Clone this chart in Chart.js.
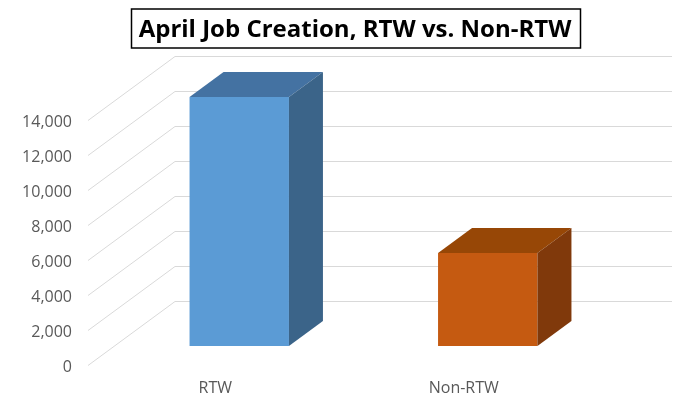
<!DOCTYPE html>
<html>
<head>
<meta charset="utf-8">
<script src="https://cdn.jsdelivr.net/npm/chart.js@4"></script>
<style>
  html, body { margin: 0; padding: 0; background: #fff; }
  #wrap { width: 685px; height: 407px; }
</style>
</head>
<body>
<div id="wrap"><canvas id="chart" width="685" height="407"></canvas></div>
<script>
var categories = ['RTW', 'Non-RTW'];
var jobs = [14230, 5310];
var yTicks = [0, 2000, 4000, 6000, 8000, 10000, 12000, 14000];
var titleText = 'April Job Creation, RTW vs. Non-RTW';

var frontColors = ['#5B9BD5', '#C55A11'];
var topColors = ['#4472A2', '#974706'];
var sideColors = ['#3B6489', '#80390B'];

// depth of the bars and of the walls, in pixels
var BAR_DX = 34, BAR_DY = -25;
var FRONT_DX = -27, FRONT_DY = 19;
var BACK_DX = 60, BACK_DY = -45;

var walls = {
  id: 'walls',
  beforeDatasetsDraw: function(chart) {
    var ctx = chart.ctx, y = chart.scales.y, a = chart.chartArea;
    ctx.save();
    ctx.strokeStyle = '#D9D9D9';
    ctx.lineWidth = 1;
    yTicks.forEach(function(v) {
      var py = Math.round(y.getPixelForValue(v)) + 0.5;
      ctx.beginPath();
      ctx.moveTo(a.left + FRONT_DX, py + FRONT_DY);
      ctx.lineTo(a.left + BACK_DX, py + BACK_DY);
      ctx.lineTo(a.right + BACK_DX, py + BACK_DY);
      ctx.stroke();
    });
    ctx.restore();
  },
  afterDatasetsDraw: function(chart) {
    var ctx = chart.ctx;
    var meta = chart.getDatasetMeta(0);
    ctx.save();
    meta.data.forEach(function(bar, i) {
      var l = bar.x - bar.width / 2, r = bar.x + bar.width / 2;
      var t = bar.y, b = bar.base;
      ctx.fillStyle = topColors[i];
      ctx.beginPath();
      ctx.moveTo(l, t);
      ctx.lineTo(r, t);
      ctx.lineTo(r + BAR_DX, t + BAR_DY);
      ctx.lineTo(l + BAR_DX, t + BAR_DY);
      ctx.closePath();
      ctx.fill();
      ctx.fillStyle = sideColors[i];
      ctx.beginPath();
      ctx.moveTo(r, t);
      ctx.lineTo(r + BAR_DX, t + BAR_DY);
      ctx.lineTo(r + BAR_DX, b + BAR_DY);
      ctx.lineTo(r, b);
      ctx.closePath();
      ctx.fill();
    });
    ctx.restore();
  },
  afterDraw: function(chart) {
    var ctx = chart.ctx;
    ctx.save();
    ctx.font = 'bold 24px "Open Sans"';
    ctx.fillStyle = '#000';
    ctx.textAlign = 'center';
    ctx.textBaseline = 'alphabetic';
    var cx = 355, w = ctx.measureText(titleText).width;
    ctx.fillText(titleText, cx, 37);
    ctx.strokeStyle = '#000';
    ctx.lineWidth = 1.5;
    ctx.strokeRect(Math.round(cx - w / 2 - 8) + 0.5, 9, Math.round(w + 16), 39);
    ctx.restore();
  }
};

new Chart(document.getElementById('chart').getContext('2d'), {
  type: 'bar',
  data: {
    labels: categories,
    datasets: [{
      data: jobs,
      backgroundColor: frontColors,
      borderWidth: 0,
      barPercentage: 0.4,
      categoryPercentage: 1,
      clip: false
    }]
  },
  options: {
    responsive: false,
    animation: false,
    events: [],
    layout: { autoPadding: false, padding: { top: 101, right: 73, bottom: 0, left: 0 } },
    plugins: { legend: { display: false }, title: { display: false }, tooltip: { enabled: false } },
    scales: {
      x: {
        grid: { display: false, drawTicks: false },
        border: { display: false },
        afterFit: function(s) { s.height = 61; },
        ticks: {
          color: '#595959',
          font: { family: 'Open Sans', size: 16 },
          labelOffset: -24,
          padding: 33
        }
      },
      y: {
        min: 0,
        max: 14000,
        grid: { display: false, drawTicks: false },
        border: { display: false },
        afterFit: function(s) { s.width = 115; },
        afterBuildTicks: function(s) { s.ticks = yTicks.map(function(v) { return { value: v }; }); },
        ticks: {
          color: '#595959',
          font: { family: 'Open Sans', size: 16 },
          labelOffset: 21,
          padding: 43,
          callback: function(v) { return v.toLocaleString('en-US'); }
        }
      }
    }
  },
  plugins: [walls]
});
</script>
</body>
</html>
